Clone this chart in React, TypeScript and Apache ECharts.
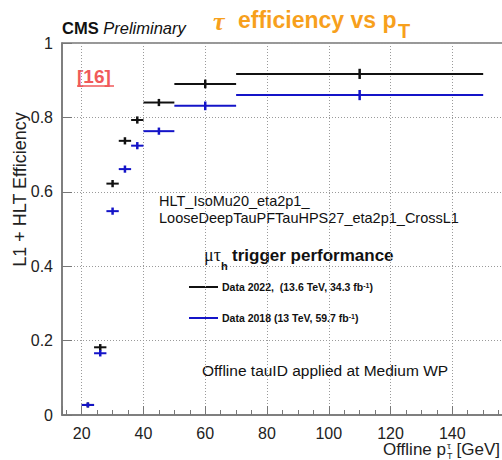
import React, { useEffect, useRef } from "react";
import * as echarts from "echarts";

// Bin edges / centers (offline tau pT, GeV)
const binLow = [20, 24, 28, 32, 36, 40, 50, 70];
const binHigh = [24, 28, 32, 36, 40, 50, 70, 150];
const binCenter = [22, 26, 30, 34, 38, 45, 60, 110];

// Efficiencies
const eff2022 = [0.027, 0.182, 0.622, 0.737, 0.793, 0.84, 0.89, 0.917];
const err2022 = [0.004, 0.006, 0.007, 0.007, 0.007, 0.007, 0.009, 0.011];
const eff2018 = [0.027, 0.166, 0.548, 0.661, 0.724, 0.763, 0.831, 0.86];
const err2018 = [0.004, 0.006, 0.007, 0.007, 0.007, 0.007, 0.009, 0.011];

const legendLabels = ["Data 2022,  (13.6 TeV, 34.3 fb", "Data 2018 (13 TeV, 59.7 fb"];
const seriesColors = ["#111111", "#1414c8"];

const SANS = "'Liberation Sans', Arial, Helvetica, sans-serif";
const SERIF = "'Liberation Serif', 'Times New Roman', serif";

function makeRender(color: string) {
  return (params: any, api: any) => {
    const lo = api.coord([api.value(0), api.value(3)]);
    const hi = api.coord([api.value(1), api.value(3)]);
    const top = api.coord([api.value(2), api.value(3) + api.value(4)]);
    const bot = api.coord([api.value(2), api.value(3) - api.value(4)]);
    return {
      type: "group",
      children: [
        {
          type: "line",
          shape: { x1: lo[0], y1: lo[1], x2: hi[0], y2: hi[1] },
          style: { stroke: color, lineWidth: 2 },
        },
        {
          type: "line",
          shape: { x1: top[0], y1: top[1] - 1, x2: bot[0], y2: bot[1] + 1 },
          style: { stroke: color, lineWidth: 2.5 },
        },
      ],
    };
  };
}

function buildData(eff: number[], err: number[]) {
  return binLow.map((lo, i) => [lo, binHigh[i], binCenter[i], eff[i], err[i]]);
}

export default function App() {
  const ref = useRef<HTMLDivElement>(null);

  useEffect(() => {
    if (!ref.current) return;
    const chart = echarts.init(ref.current, null, { renderer: "svg" });
    const axisGray = "#777";
    const option: any = {
      animation: false,
      backgroundColor: "#ffffff",
      grid: {
        left: 62,
        top: 43,
        right: -2,
        bottom: 45,
        show: true,
        borderColor: axisGray,
        borderWidth: 1.5,
        containLabel: false,
        outerBoundsMode: "none",
      },
      xAxis: {
        type: "value",
        min: 13.62,
        max: 156.74,
        splitNumber: 7,
        minInterval: 20,
        maxInterval: 20,
        axisLine: { show: true, lineStyle: { color: axisGray, width: 1.5 } },
        axisTick: { show: true, inside: true, length: 9, lineStyle: { color: axisGray, width: 1 } },
        minorTick: { show: true, splitNumber: 4, length: 5, lineStyle: { color: axisGray, width: 1 } },
        axisLabel: {
          showMinLabel: false,
          showMaxLabel: false,
          fontSize: 16,
          color: "#222",
          margin: 10,
          fontFamily: SANS,
        },
        splitLine: { show: true, lineStyle: { type: [1, 2], color: "#9a9a9a", width: 1 } },
      },
      yAxis: {
        type: "value",
        min: 0,
        max: 1,
        interval: 0.2,
        axisLine: { show: true, lineStyle: { color: axisGray, width: 1.5 } },
        axisTick: { show: true, inside: true, length: 10, lineStyle: { color: axisGray, width: 1 } },
        axisLabel: { fontSize: 16, color: "#222", margin: 9, fontFamily: SANS },
        splitLine: { show: true, lineStyle: { type: [1, 2], color: "#9a9a9a", width: 1 } },
      },
      series: [
        {
          type: "custom",
          name: "2022",
          renderItem: makeRender(seriesColors[0]),
          encode: { x: [0, 1, 2], y: 3 },
          data: buildData(eff2022, err2022),
          z: 2,
        },
        {
          type: "custom",
          name: "2018",
          renderItem: makeRender(seriesColors[1]),
          encode: { x: [0, 1, 2], y: 3 },
          data: buildData(eff2018, err2018),
          z: 3,
        },
      ],
      graphic: [
        // CMS Preliminary
        {
          type: "text",
          x: 62,
          y: 27.5,
          style: {
            text: "{a|CMS }{b|Preliminary}",
            verticalAlign: "middle",
            align: "left",
            rich: {
              a: { fontSize: 16.5, fontWeight: "bold", fontFamily: SANS, fill: "#111" },
              b: { fontSize: 16.5, fontStyle: "italic", fontFamily: SANS, fill: "#111" },
            },
          },
        },
        // orange title
        {
          type: "text",
          x: 213,
          y: 21,
          style: {
            text: "τ",
            fontSize: 26,
            fontStyle: "italic",
            fontWeight: "bold",
            fontFamily: SERIF,
            fill: "#f7a01c",
            verticalAlign: "middle",
            align: "left",
          },
        },
        {
          type: "text",
          x: 238,
          y: 20.3,
          style: {
            text: "efficiency vs p",
            fontSize: 23,
            fontWeight: "bold",
            fontFamily: SANS,
            fill: "#f7a01c",
            verticalAlign: "middle",
            align: "left",
          },
        },
        {
          type: "text",
          x: 398,
          y: 30.8,
          style: {
            text: "T",
            fontSize: 20,
            fontWeight: "bold",
            fontFamily: SANS,
            fill: "#f7a01c",
            verticalAlign: "middle",
            align: "left",
          },
        },
        // [16]
        {
          type: "text",
          x: 77,
          y: 76,
          style: {
            text: "[16]",
            fontSize: 19,
            fontWeight: "bold",
            fontFamily: SANS,
            fill: "#f05a5a",
            verticalAlign: "middle",
            align: "left",
          },
        },
        {
          type: "line",
          shape: { x1: 77, y1: 86, x2: 114, y2: 86 },
          style: { stroke: "#f05a5a", lineWidth: 1.5 },
        },
        // y axis title
        {
          type: "text",
          x: 20,
          y: 189.5,
          rotation: Math.PI / 2,
          style: {
            text: "L1 + HLT Efficiency",
            fontSize: 18,
            fontFamily: SANS,
            fill: "#222",
            align: "center",
            verticalAlign: "middle",
          },
        },
        // x axis title
        {
          type: "text",
          x: 446,
          y: 449,
          style: {
            text: "Offline p",
            fontSize: 17,
            fontFamily: SANS,
            fill: "#222",
            align: "right",
            verticalAlign: "middle",
          },
        },
        {
          type: "text",
          x: 447,
          y: 445.5,
          style: { text: "τ", fontSize: 10, fontFamily: SERIF, fill: "#222", align: "left", verticalAlign: "middle" },
        },
        {
          type: "text",
          x: 447,
          y: 456,
          style: { text: "T", fontSize: 9, fontFamily: SANS, fill: "#222", align: "left", verticalAlign: "middle" },
        },
        {
          type: "text",
          x: 500,
          y: 449,
          style: {
            text: "[GeV]",
            fontSize: 17,
            fontFamily: SANS,
            fill: "#222",
            align: "right",
            verticalAlign: "middle",
          },
        },
        // trigger path
        {
          type: "text",
          x: 159,
          y: 201,
          style: {
            text: "HLT_IsoMu20_eta2p1_",
            fontSize: 14.5,
            fontFamily: SANS,
            fill: "#111",
            align: "left",
            verticalAlign: "middle",
          },
        },
        {
          type: "text",
          x: 159,
          y: 218,
          style: {
            text: "LooseDeepTauPFTauHPS27_eta2p1_CrossL1",
            fontSize: 14.5,
            fontFamily: SANS,
            fill: "#111",
            align: "left",
            verticalAlign: "middle",
          },
        },
        // mu tau_h trigger performance
        {
          type: "text",
          x: 204,
          y: 255,
          style: { text: "μτ", fontSize: 18, fontFamily: SERIF, fill: "#111", align: "left", verticalAlign: "middle" },
        },
        {
          type: "text",
          x: 221,
          y: 266,
          style: { text: "h", fontSize: 11, fontWeight: "bold", fontFamily: SANS, fill: "#111", align: "left", verticalAlign: "middle" },
        },
        {
          type: "text",
          x: 232,
          y: 255,
          style: {
            text: "trigger performance",
            fontSize: 17,
            fontWeight: "bold",
            fontFamily: SANS,
            fill: "#111",
            align: "left",
            verticalAlign: "middle",
          },
        },
        // legend
        ...legendLabels.flatMap((label, i) => {
          const y = i === 0 ? 287 : 318;
          return [
            {
              type: "line",
              shape: { x1: 189, y1: y, x2: 218, y2: y },
              style: { stroke: seriesColors[i], lineWidth: 2 },
            },
            {
              type: "text",
              x: 222,
              y: y,
              style: {
                text: "{t|" + label + "}{s|-1}{t|)}",
                align: "left",
                verticalAlign: "middle",
                rich: {
                  t: { fontSize: 10.5, fontWeight: "bold", fontFamily: SANS, fill: "#111" },
                  s: { fontSize: 7, fontWeight: "bold", fontFamily: SANS, fill: "#111", verticalAlign: "top" },
                },
              },
            },
          ];
        }),
        // tau ID note
        {
          type: "text",
          x: 202,
          y: 370,
          style: {
            text: "Offline tauID applied at Medium WP",
            fontSize: 15.5,
            fontFamily: SANS,
            fill: "#111",
            align: "left",
            verticalAlign: "middle",
          },
        },
      ],
    };
    chart.setOption(option);
    return () => {
      chart.dispose();
    };
  }, []);

  return (
    <div
      ref={ref}
      style={{ position: "fixed", left: 0, top: 0, width: 502, height: 460, background: "#fff" }}
    />
  );
}
